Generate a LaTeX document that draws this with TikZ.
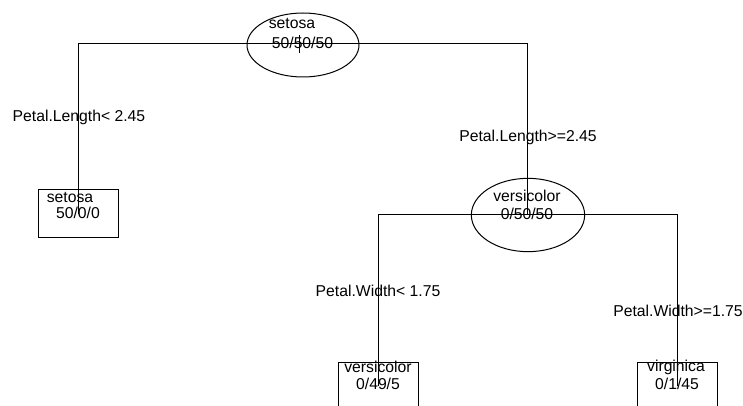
\documentclass[tikz,border=0pt]{standalone}
\usepackage{fontspec}
\setmainfont{Liberation Sans}
\usetikzlibrary{shapes.geometric}
\begin{document}
\begin{tikzpicture}[x=0.75pt,y=-0.75pt,line width=0.75pt,
	every node/.style={font=\fontsize{11.8}{14}\selectfont,inner sep=0pt},
	split/.style={ellipse,draw,minimum width=84pt,minimum height=48pt},
	leaf/.style={rectangle,draw,minimum width=60pt,minimum height=36pt}]
	\useasboundingbox (0,0) rectangle (743,406);
	% splits
	\node[split] (root) at (303,45) {};
	\node[split,minimum width=85pt,minimum height=55pt] (vers) at (528,215) {};
	% leaves
	\node[leaf] (setosaleaf) at (78.5,214) {};
	\node[leaf] (versleaf) at (378.5,386) {};
	\node[leaf] (virgleaf) at (677.5,386) {};
	% branches
	\coordinate (rootsplit) at (303,43.5);
	\coordinate (verssplit) at (527.5,214.5);
	\draw (setosaleaf.center) |- (rootsplit) -| (verssplit);
	\draw (versleaf.center) |- (verssplit) -| (virgleaf.center);
	\coordinate (ticktop) at (299.5,35);
	\coordinate (tickbot) at (299.5,53);
	\draw (ticktop) -- (tickbot);
	% node texts
	\draw (292,23) node (roottitle) {setosa};
	\draw (302.5,43) node (rootcount) {50/50/50};
	\draw (527,196) node (verstitle) {versicolor};
	\draw (527,214) node (verscount) {0/50/50};
	\draw (70,197) node (setosatitle) {setosa};
	\draw (78,213) node (setosacount) {50/0/0};
	\draw (378,367) node (versleaftitle) {versicolor};
	\draw (378,384) node (versleafcount) {0/49/5};
	\draw (676,367) node (virgtitle) {virginica};
	\draw (677,384) node (virgcount) {0/1/45};
	% split labels
	\draw (79,117) node (lenlt) {Petal.Length< 2.45};
	\draw (528,137) node (lenge) {Petal.Length>=2.45};
	\draw (378,291) node (widlt) {Petal.Width< 1.75};
	\draw (678,311) node (widge) {Petal.Width>=1.75};
\end{tikzpicture}
\end{document}
